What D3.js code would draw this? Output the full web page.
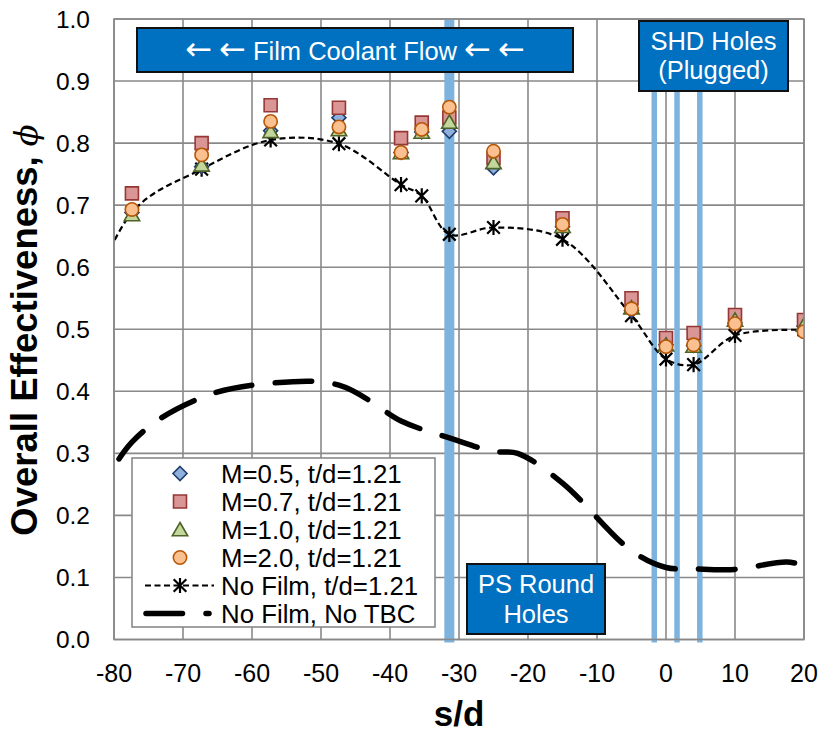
<!DOCTYPE html>
<html>
<head>
<meta charset="utf-8">
<script src="https://cdn.jsdelivr.net/npm/d3@7/dist/d3.min.js"></script>
<style>
  html, body { margin: 0; padding: 0; background: #fff; }
  svg { display: block; font-family: Arial, "Liberation Sans", sans-serif; }
</style>
</head>
<body>
<svg id="chart" width="827" height="735"></svg>
<script>
// Measurement stations along the surface (s/d)
const stations = [-77.4, -67.3, -57.3, -47.4, -38.4, -35.4, -31.4, -25, -15, -5, 0, 4, 10, 20];

// Film-cooled cases, t/d = 1.21
const phiM05 = [0.688, 0.762, 0.820, 0.841, 0.785, 0.818, 0.819, 0.760, 0.665, 0.530, 0.475, 0.474, 0.510, 0.505];
const phiM07 = [0.719, 0.800, 0.861, 0.857, 0.808, 0.833, 0.841, 0.776, 0.679, 0.550, 0.486, 0.494, 0.523, 0.515];
const phiM10 = [0.685, 0.765, 0.819, 0.822, 0.785, 0.818, 0.834, 0.769, 0.666, 0.535, 0.475, 0.473, 0.515, 0.507];
const phiM20 = [0.693, 0.781, 0.835, 0.826, 0.785, 0.822, 0.858, 0.787, 0.669, 0.533, 0.472, 0.475, 0.509, 0.496];

// No film cooling, t/d = 1.21 (first station lies upstream of the plotted range)
const noFilmS   = [-87.4, -77.4, -67.3, -57.3, -47.4, -38.4, -35.4, -31.4, -25, -15, -5, 0, 4, 10, 20];
const noFilmPhi = [0.43, 0.688, 0.758, 0.805, 0.799, 0.733, 0.715, 0.653, 0.664, 0.645, 0.522, 0.452, 0.443, 0.490, 0.499];

// No film, no TBC
const noTbcS   = [-87.4, -77.4, -67.3, -57.3, -47.4, -38.4, -35.4, -31.4, -25, -21.5, -15, -5, 0, 4, 10, 17.5, 20];
const noTbcPhi = [0.12, 0.318, 0.390, 0.413, 0.410, 0.352, 0.339, 0.325, 0.303, 0.300, 0.252, 0.143, 0.116, 0.114, 0.113, 0.125, 0.119];

// Cooling hole locations (s/d)
const psHoleS  = [-31.4];
const shdHoleS = [-1.7, 1.6, 4.9];

// Axis ticks
const xTicks = [-80, -70, -60, -50, -40, -30, -20, -10, 0, 10, 20];
const yTicks = [0, 0.1, 0.2, 0.3, 0.4, 0.5, 0.6, 0.7, 0.8, 0.9, 1.0];

const legendLabels = ["M=0.5, t/d=1.21", "M=0.7, t/d=1.21", "M=1.0, t/d=1.21", "M=2.0, t/d=1.21",
                      "No Film, t/d=1.21", "No Film, No TBC"];

const svg = d3.select("#chart");
const x = d3.scaleLinear().domain([-80, 20]).range([114, 804]);
const y = d3.scaleLinear().domain([0, 1]).range([639.5, 19]);

const gridColor = "#898989";
const holeBlue = "#7db3dd";
const boxBlue = "#0070c0";

svg.append("defs").append("clipPath").attr("id", "plotClip")
  .append("rect").attr("x", x(-80)).attr("y", y(1)).attr("width", x(20) - x(-80)).attr("height", y(0) - y(1));

// Grid
const grid = svg.append("g");
grid.selectAll("line.v").data(xTicks).join("line")
  .attr("x1", d => x(d)).attr("x2", d => x(d)).attr("y1", y(1)).attr("y2", y(0))
  .attr("stroke", gridColor).attr("stroke-width", 1.6);
grid.selectAll("line.h").data(yTicks).join("line")
  .attr("x1", x(-80)).attr("x2", x(20)).attr("y1", d => y(d)).attr("y2", d => y(d))
  .attr("stroke", gridColor).attr("stroke-width", 1.6);

// Hole location markers
svg.append("g").selectAll("line").data(psHoleS).join("line")
  .attr("x1", d => x(d)).attr("x2", d => x(d)).attr("y1", y(1)).attr("y2", y(-0.005))
  .attr("stroke", holeBlue).attr("stroke-width", 10);
svg.append("g").selectAll("line").data(shdHoleS).join("line")
  .attr("x1", d => x(d)).attr("x2", d => x(d)).attr("y1", y(1)).attr("y2", y(-0.005))
  .attr("stroke", holeBlue).attr("stroke-width", 5.5);

// Axes tick labels (plain hyphen for negatives)
svg.append("g").selectAll("text").data(xTicks).join("text")
  .attr("x", d => x(d)).attr("y", 682)
  .attr("text-anchor", "middle").attr("font-size", 25).attr("fill", "#000")
  .text(d => String(d));
svg.append("g").selectAll("text").data(yTicks).join("text")
  .attr("x", 90).attr("y", d => y(d)).attr("dy", "0.36em")
  .attr("text-anchor", "end").attr("font-size", 24.5).attr("fill", "#000")
  .text(d => d.toFixed(1));

// Axis titles
svg.append("text").attr("x", 459).attr("y", 726).attr("text-anchor", "middle")
  .attr("font-size", 35).attr("font-weight", "bold").text("s/d");
const yTitle = svg.append("text").attr("transform", "translate(37,330) rotate(-90)")
  .attr("text-anchor", "middle").attr("font-size", 36.5).attr("font-weight", "bold");
yTitle.append("tspan").text("Overall Effectiveness, ");
yTitle.append("tspan").attr("font-style", "italic").attr("font-weight", "normal")
  .attr("font-family", "'DejaVu Serif', serif").attr("font-size", 32).text("\u03d5");

const plot = svg.append("g").attr("clip-path", "url(#plotClip)");

// No film, no TBC — thick long-dash curve
plot.append("path")
  .datum(noTbcS.map((s, i) => [s, noTbcPhi[i]]))
  .attr("d", d3.line().x(d => x(d[0])).y(d => y(d[1])).curve(d3.curveCatmullRom))
  .attr("fill", "none").attr("stroke", "#000").attr("stroke-width", 5.5)
  .attr("stroke-linecap", "round").attr("stroke-dasharray", "36.5,23.5");

// No film, t/d=1.21 — thin dashed curve with star markers
plot.append("path")
  .datum(noFilmS.map((s, i) => [s, noFilmPhi[i]]))
  .attr("d", d3.line().x(d => x(d[0])).y(d => y(d[1])).curve(d3.curveCatmullRom))
  .attr("fill", "none").attr("stroke", "#000").attr("stroke-width", 2.2)
  .attr("stroke-dasharray", "6,3.5");

// Marker shapes
const tri = { draw(ctx, size) { const h = Math.sqrt(size); ctx.moveTo(0, -h * 0.5); ctx.lineTo(h * 0.55, h * 0.45); ctx.lineTo(-h * 0.55, h * 0.45); ctx.closePath(); } };
const dia = { draw(ctx, size) { const r = Math.sqrt(size) / 2; ctx.moveTo(0, -r); ctx.lineTo(r, 0); ctx.lineTo(0, r); ctx.lineTo(-r, 0); ctx.closePath(); } };
const sq  = { draw(ctx, size) { const r = Math.sqrt(size) / 2; ctx.rect(-r, -r, 2 * r, 2 * r); } };
const star = { draw(ctx, size) { const r = Math.sqrt(size) / 2; ctx.moveTo(-r, -r); ctx.lineTo(r, r); ctx.moveTo(r, -r); ctx.lineTo(-r, r); ctx.moveTo(0, -r * 1.2); ctx.lineTo(0, r * 1.2); } };

const series = [
  { vals: phiM05, type: dia, size: 196, fill: "#8eb0da", stroke: "#1f3d6e" },
  { vals: phiM07, type: sq, size: 169, fill: "#d99694", stroke: "#953735" },
  { vals: phiM10, type: tri, size: 196, fill: "#c3d69b", stroke: "#4f6228" },
  { vals: phiM20, type: d3.symbolCircle, size: 140, fill: "#fac090", stroke: "#b65708" }
];

const stars = noFilmS.map((s, i) => [s, noFilmPhi[i]]).filter(d => d[0] >= -80);
plot.append("g").selectAll("path").data(stars).join("path")
  .attr("transform", d => `translate(${x(d[0])},${y(d[1])})`)
  .attr("d", d3.symbol(star, 160)())
  .attr("fill", "none").attr("stroke", "#000").attr("stroke-width", 2.2);

series.forEach(sr => {
  plot.append("g").selectAll("path").data(stations.map((s, i) => [s, sr.vals[i]])).join("path")
    .attr("transform", d => `translate(${x(d[0])},${y(d[1])})`)
    .attr("d", d3.symbol(sr.type, sr.size)())
    .attr("fill", sr.fill).attr("stroke", sr.stroke).attr("stroke-width", 1.6);
});

// Frame
svg.append("rect").attr("x", x(-80)).attr("y", y(1)).attr("width", x(20) - x(-80)).attr("height", y(0) - y(1))
  .attr("fill", "none").attr("stroke", gridColor).attr("stroke-width", 1.6);

// Annotation boxes
function noteBox(x0, y0, x1, y1, lines, baselines) {
  const g = svg.append("g");
  g.append("rect").attr("x", x0).attr("y", y0).attr("width", x1 - x0).attr("height", y1 - y0)
    .attr("fill", boxBlue).attr("stroke", "#111").attr("stroke-width", 2);
  lines.forEach((parts, i) => {
    const t = g.append("text").attr("x", (x0 + x1) / 2).attr("y", baselines[i])
      .attr("text-anchor", "middle").attr("fill", "#fff").attr("font-size", 25.5);
    parts.forEach(p => {
      const ts = t.append("tspan").text(p.text);
      if (p.arrow) ts.attr("font-family", "'DejaVu Sans', sans-serif").attr("font-size", 32);
    });
  });
}
const arrow = "\u2190";
noteBox(137, 28, 573, 72, [[
  { text: arrow, arrow: true }, { text: " " }, { text: arrow, arrow: true },
  { text: " Film Coolant Flow " },
  { text: arrow, arrow: true }, { text: " " }, { text: arrow, arrow: true }
]], [60]);
noteBox(639, 21, 788, 91, [[{ text: "SHD Holes" }], [{ text: "(Plugged)" }]], [50, 79]);
noteBox(467, 564, 605, 634, [[{ text: "PS Round" }], [{ text: "Holes" }]], [593, 623]);

// Legend
const lg = svg.append("g");
lg.append("rect").attr("x", 132).attr("y", 458).attr("width", 303).attr("height", 169)
  .attr("fill", "#fff").attr("stroke", gridColor).attr("stroke-width", 1.6);
const rowY = i => 473.5 + i * 28;
legendLabels.forEach((t, i) => {
  lg.append("text").attr("x", 221).attr("y", rowY(i)).attr("dy", "0.35em")
    .attr("font-size", 25.8).attr("fill", "#000").text(t);
});
series.forEach((sr, i) => {
  lg.append("path").attr("transform", `translate(180,${rowY(i)})`)
    .attr("d", d3.symbol(sr.type, sr.size)())
    .attr("fill", sr.fill).attr("stroke", sr.stroke).attr("stroke-width", 1.6);
});
lg.append("line").attr("x1", 145).attr("x2", 214).attr("y1", rowY(4)).attr("y2", rowY(4))
  .attr("stroke", "#000").attr("stroke-width", 2.2).attr("stroke-dasharray", "6,3.5");
lg.append("path").attr("transform", `translate(180,${rowY(4)})`).attr("d", d3.symbol(star, 160)())
  .attr("fill", "none").attr("stroke", "#000").attr("stroke-width", 2.2);
lg.append("line").attr("x1", 146).attr("x2", 209).attr("y1", rowY(5)).attr("y2", rowY(5))
  .attr("stroke", "#000").attr("stroke-width", 5.5).attr("stroke-linecap", "round")
  .attr("stroke-dasharray", "36.5,23.5");
</script>
</body>
</html>
